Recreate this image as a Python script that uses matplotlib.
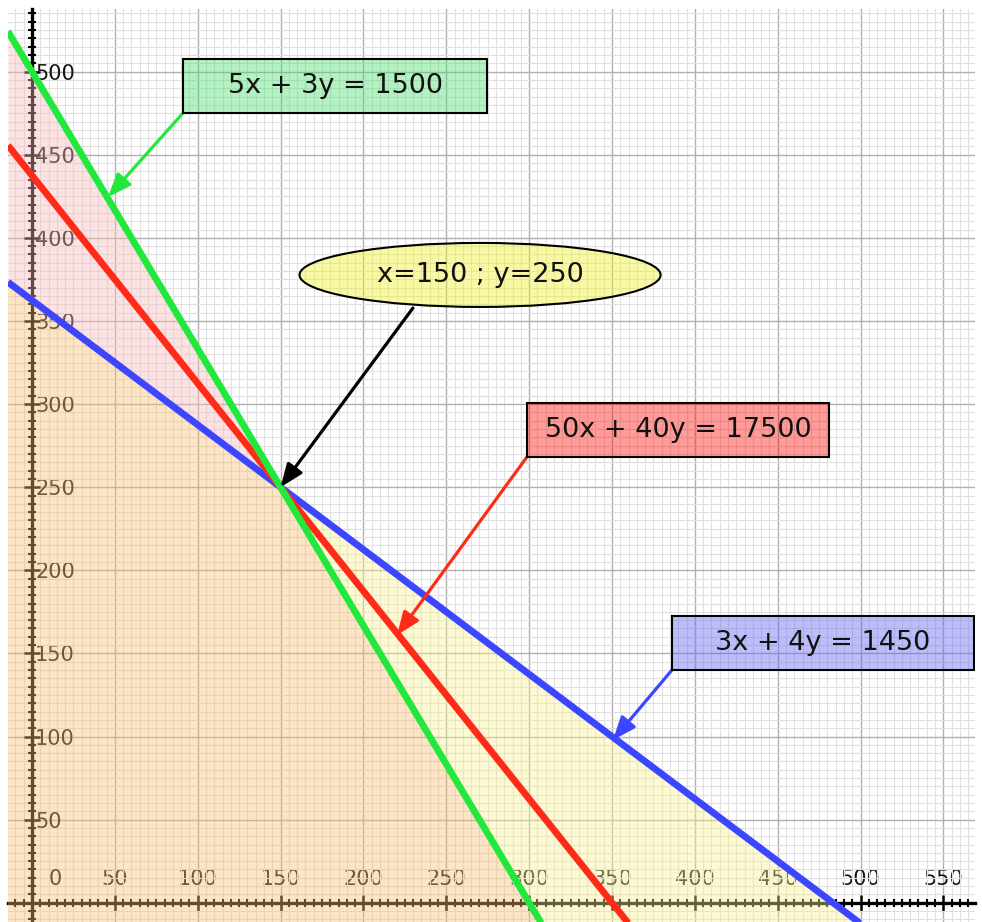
import numpy as np
import matplotlib.pyplot as plt
from matplotlib.patches import Rectangle, Ellipse

# ── Data ─────────────────────────────────────────────────────────
# constraints a*x + b*y = c
coef_a  = [5, 50, 3]
coef_b  = [3, 40, 4]
coef_c  = [1500, 17500, 1450]
eq_labs = ['5x + 3y = 1500', '50x + 40y = 17500', '3x + 4y = 1450']
sol_x, sol_y = 150, 250
sol_lab = 'x=150 ; y=250'

x_ticks = [0, 50, 100, 150, 200, 250, 300, 350, 400, 450, 500, 550]
y_ticks = [0, 50, 100, 150, 200, 250, 300, 350, 400, 450, 500]

# ── Styles ───────────────────────────────────────────────────────
C = {'green': '#22e83e', 'red': '#ff2a18', 'blue': '#3c46ff',
     'orange': '#f8be6e', 'pink': '#f8b9bb', 'yellow': '#f8f293'}
XL, YL = (-14.5, 569.1), (-11.6, 537.7)

fig = plt.figure(figsize=(9.82, 9.22), dpi=100)
fig.patch.set_facecolor('white')
ax = fig.add_axes([8/982, 0, 967/982, 913/922])
ax.set_xlim(*XL); ax.set_ylim(*YL)

# grid + axes through origin
ax.set_xticks(x_ticks)
ax.set_yticks(y_ticks)
ax.set_xticks(np.arange(-10, 570, 5), minor=True)
ax.set_yticks(np.arange(-10, 540, 5), minor=True)
ax.grid(which='major', color='#b0b0b0', lw=1.0)
ax.grid(which='minor', color='#e0e0e0', lw=0.8)
for sp in ['top', 'right']: ax.spines[sp].set_visible(False)
for sp in ['left', 'bottom']:
    ax.spines[sp].set_position(('data', 0))
    ax.spines[sp].set_linewidth(2.4)
    ax.spines[sp].set_color('black')
ax.tick_params(which='major', direction='inout', length=11, width=1.8, color='black',
               labelsize=15, labelcolor='#151515')
ax.tick_params(which='minor', direction='inout', length=5.5, width=1.5, color='black')
ax.tick_params(axis='x', which='major', pad=-29.9)
ax.tick_params(axis='y', which='major', pad=-7.7)
ax.set_xticklabels([''] + [str(v) for v in x_ticks[1:]])
ax.set_yticklabels([''] + [str(v) for v in y_ticks[1:]])
for t in ax.get_yticklabels(): t.set_ha('left')
ax.annotate('0', xy=(0, 0), xytext=(23, 24), textcoords='offset pixels',
            ha='center', va='center', fontsize=15, color='#151515', zorder=2.5)

# feasible regions
xs  = np.linspace(XL[0], XL[1], 800)
lns = [(c - a*xs)/b for a, b, c in zip(coef_a, coef_b, coef_c)]
y_g, y_r, y_b = lns
lo  = np.full_like(xs, YL[0])
ax.fill_between(xs, lo, np.minimum(y_g, y_b), color=C['orange'], alpha=0.4, lw=0, zorder=3)
ax.fill_between(xs, y_b, y_g, where=y_g >= y_b, interpolate=True,
                color=C['pink'], alpha=0.4, lw=0, zorder=3)
ax.fill_between(xs, y_g, y_b, where=y_b >= y_g, interpolate=True,
                color=C['yellow'], alpha=0.4, lw=0, zorder=3)

# constraint lines
ax.plot(xs, y_b, color=C['blue'],  lw=4.9, zorder=4, solid_capstyle='butt')
ax.plot(xs, y_r, color=C['red'],   lw=4.9, zorder=5, solid_capstyle='butt')
ax.plot(xs, y_g, color=C['green'], lw=4.9, zorder=6, solid_capstyle='butt')

# label boxes: (x0, y0, x1, y1), arrow tail, arrow tip, face
boxes = [((91.1, 475.1, 274.6, 507.6), (91.1, 475.1), (45.9, 424.6), (0.26, 0.87, 0.41, 0.4), C['green']),
         ((298.7, 268.2, 481.0, 300.7), (298.7, 268.2), (220.3, 161.0), (1.0, 0.02, 0.0, 0.4), C['red']),
         ((386.2, 140.0, 568.5, 172.5), (386.2, 140.0), (350.6, 97.9), (0.36, 0.36, 0.95, 0.4), C['blue'])]
astyle = '-|>,head_length=0.4,head_width=0.16'
for lab, ((x0, y0, x1, y1), tail, tip, fc, col) in zip(eq_labs, boxes):
    ax.add_patch(Rectangle((x0, y0), x1-x0, y1-y0, facecolor=fc, edgecolor='black',
                           lw=1.5, zorder=8))
    ax.text((x0+x1)/2, (y0+y1)/2, lab, ha='center', va='center', fontsize=19.5,
            color='#111111', zorder=9)
    ax.annotate('', xy=tip, xytext=tail, zorder=7,
                arrowprops=dict(arrowstyle=astyle, mutation_scale=35, lw=2.3, color=col,
                                shrinkA=0, shrinkB=0))

# solution ellipse
ax.add_patch(Ellipse((270.4, 377.7), 217.9, 38.5, facecolor=(0.95, 0.95, 0.12, 0.4),
                     edgecolor='black', lw=1.5, zorder=8))
ax.text(270.4, 377.7, sol_lab, ha='center', va='center', fontsize=19.5, color='#111111', zorder=9)
ax.annotate('', xy=(sol_x, sol_y), xytext=(229.9, 357.8), zorder=7,
            arrowprops=dict(arrowstyle=astyle, mutation_scale=35, lw=2.3, color='black',
                            shrinkA=0, shrinkB=0))

plt.savefig('out.png', dpi=100, facecolor='white')
